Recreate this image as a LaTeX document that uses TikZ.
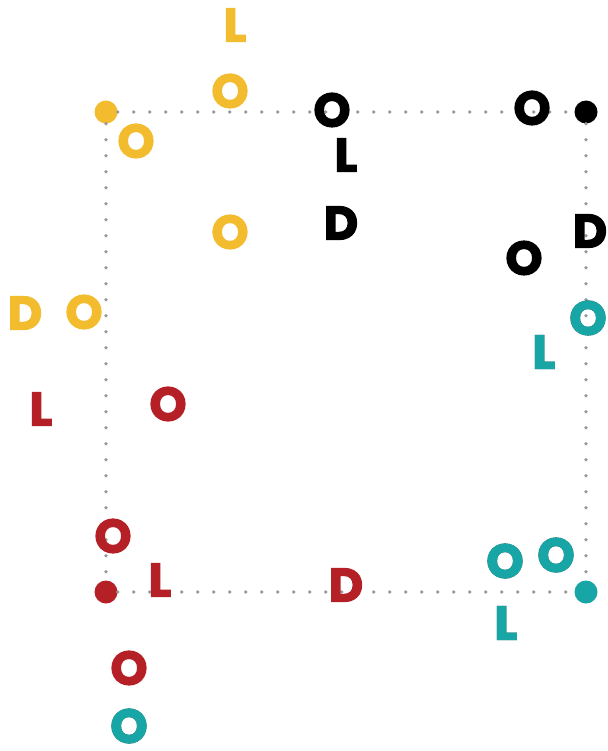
\documentclass[tikz,border=0pt]{standalone}
\usepackage{fontspec}
\setmainfont{Poppins}
\newfontfamily\heavy{Poppins Bold}[FakeBold=3]
\usepackage[outline]{contour}
\contourlength{0.7pt}
\definecolor{cy}{HTML}{F2BC2E}
\definecolor{cr}{HTML}{B52026}
\definecolor{ct}{HTML}{18A5A5}
\definecolor{cto}{HTML}{1E4C4C}
\definecolor{cg}{HTML}{9A9A9A}
\begin{document}
\begin{tikzpicture}[x=1pt,y=-1pt,
  lt/.style={inner sep=0pt,font=\fontsize{47}{47}\heavy},
  ylt/.style={lt,text=cy},
  klt/.style={lt,text=black},
  rlt/.style={lt,text=cr},
  tlt/.style={lt},
  corner/.style={circle,inner sep=0pt,minimum size=23pt},
  dotline/.style={draw=cg,line width=3.8pt,line cap=round,dash pattern=on 0pt off 16pt}]
\useasboundingbox (0,0) rectangle (607,751);
\node[corner,fill=cy] (cy) at (106,112) {};
\node[corner,fill=black] (ck) at (586,112) {};
\node[corner,fill=cr] (cr) at (106,592) {};
\node[corner,fill=ct] (ct) at (586,592) {};
\path[dotline] (cy) -- (ck);
\path[dotline] (cy) -- (cr);
\path[dotline] (cr) -- (ct);
\path[dotline] (ck) -- (ct);
% yellow
\node[ylt] (y1) at (235,25) {L};
\node[ylt] (y2) at (230,91) {O};
\node[ylt] (y3) at (136,141) {O};
\node[ylt] (y4) at (230,232) {O};
\node[ylt] (y5) at (25,313) {D};
\node[ylt] (y6) at (84,312) {O};
% black
\node[klt] (k1) at (332,110) {O};
\node[klt] (k2) at (346,155) {L};
\node[klt] (k3) at (341,223) {D};
\node[klt] (k4) at (532,108) {O};
\node[klt] (k5) at (590,231) {D};
\node[klt] (k6) at (524,258) {O};
% teal
\node[tlt] (t1) at (588,318) {\contour{cto}{\textcolor{ct}{O}}};
\node[tlt] (t2) at (544,352) {\contour{cto}{\textcolor{ct}{L}}};
\node[tlt] (t3) at (505,561) {\contour{cto}{\textcolor{ct}{O}}};
\node[tlt] (t4) at (556,555) {\contour{cto}{\textcolor{ct}{O}}};
\node[tlt] (t5) at (506,623) {\contour{cto}{\textcolor{ct}{L}}};
\node[tlt] (t6) at (129,726) {\contour{cto}{\textcolor{ct}{O}}};
% red
\node[rlt] (r1) at (41,409) {L};
\node[rlt] (r2) at (168,404) {O};
\node[rlt] (r3) at (113,536) {O};
\node[rlt] (r4) at (160,580) {L};
\node[rlt] (r5) at (346,585) {D};
\node[rlt] (r6) at (129,668) {O};
\end{tikzpicture}
\end{document}
